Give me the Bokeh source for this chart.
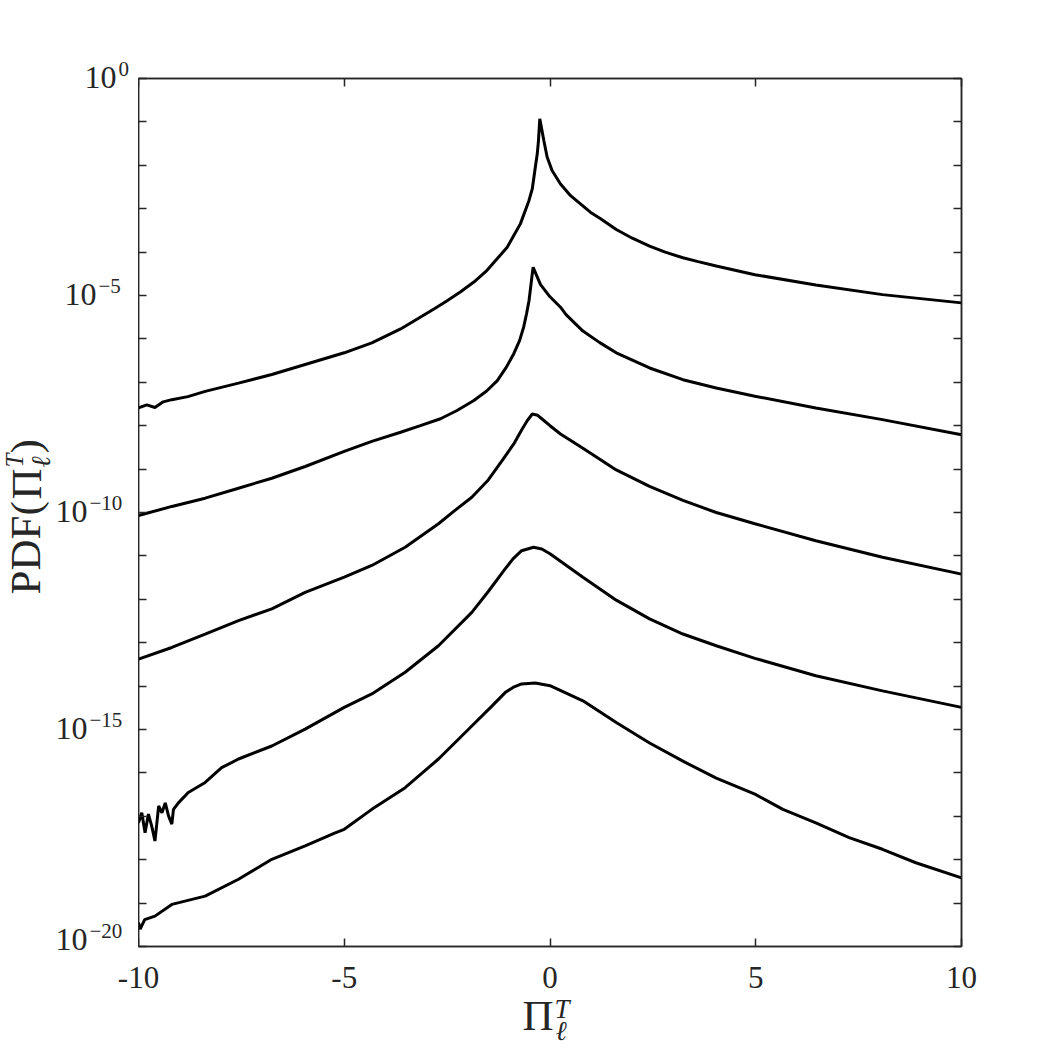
import numpy as np
from bokeh.plotting import figure
from bokeh.layouts import row, column
from bokeh.models import (FixedTicker, CustomJSTickFormatter, LinearAxis, LogAxis, Label, Axis)
from bokeh.embed import file_html
from bokeh.resources import INLINE

# ---- data (x = Pi_l^T, values given as log10 of the PDF) ----
x_a = [-10, -9.8, -9.6, -9.4, -9.19, -8.8, -8.38, -7.57, -6.76, -5.95, -5.0, -4.33, -3.63, -2.82,
       -2.50, -2.18, -1.85, -1.53, -1.28, -1.04, -0.88, -0.72, -0.51, -0.43, -0.35, -0.31, -0.28,
       -0.248, -0.15, -0.07, 0.05, 0.255, 0.50, 0.74, 0.98, 1.23, 1.61, 2.0, 2.42, 2.8, 3.23, 3.6,
       4.04, 4.98, 6.46, 8.08, 10]
log_a = [-7.59, -7.52, -7.58, -7.45, -7.40, -7.33, -7.21, -7.02, -6.82, -6.59, -6.32, -6.09, -5.77,
         -5.31, -5.12, -4.92, -4.69, -4.42, -4.15, -3.89, -3.62, -3.35, -2.81, -2.54, -2.00, -1.74,
         -1.43, -0.93, -1.43, -1.81, -2.12, -2.43, -2.70, -2.89, -3.08, -3.23, -3.48, -3.68, -3.86,
         -4.00, -4.13, -4.22, -4.32, -4.52, -4.76, -4.98, -5.17]

x_b = [-10, -9.19, -8.38, -7.57, -6.76, -5.95, -5.0, -4.33, -3.63, -3.15, -2.66, -2.26, -1.85, -1.54,
       -1.28, -1.06, -0.88, -0.74, -0.64, -0.57, -0.51, -0.45, -0.41, -0.23, 0.0, 0.255, 0.39, 0.80,
       1.20, 1.61, 2.42, 3.23, 4.04, 4.98, 6.46, 8.08, 10]
log_b = [-10.07, -9.86, -9.67, -9.44, -9.21, -8.94, -8.59, -8.36, -8.15, -8.00, -7.84, -7.65, -7.42,
         -7.20, -6.96, -6.65, -6.34, -6.04, -5.73, -5.42, -5.12, -4.65, -4.35, -4.75, -5.03, -5.27,
         -5.44, -5.82, -6.08, -6.32, -6.67, -6.94, -7.13, -7.32, -7.59, -7.86, -8.21]

x_c = [-10, -9.19, -8.38, -7.57, -6.76, -5.95, -5.0, -4.33, -3.52, -2.71, -2.31, -1.90, -1.50, -1.16,
       -0.88, -0.69, -0.55, -0.43, -0.30, -0.20, 0.0, 0.255, 0.80, 1.61, 2.42, 3.23, 4.04, 4.98,
       6.46, 8.08, 10]
log_c = [-13.38, -13.11, -12.80, -12.49, -12.22, -11.84, -11.49, -11.22, -10.80, -10.26, -9.95,
         -9.65, -9.25, -8.80, -8.42, -8.10, -7.88, -7.73, -7.76, -7.84, -8.00, -8.19, -8.52, -9.02,
         -9.40, -9.72, -10.00, -10.26, -10.65, -11.03, -11.42]

x_d = [-10, -9.92, -9.84, -9.76, -9.68, -9.60, -9.51, -9.43, -9.35, -9.27, -9.19, -9.15, -9.03,
       -8.79, -8.38, -7.98, -7.57, -6.76, -5.95, -5.0, -4.33, -3.52, -2.71, -1.90, -1.50, -1.09,
       -0.90, -0.69, -0.40, -0.20, 0.0, 0.80, 1.61, 2.42, 3.23, 4.04, 4.98, 6.46, 8.08, 10]
log_d = [-17.15, -16.92, -17.38, -16.95, -17.22, -17.57, -16.76, -16.92, -16.69, -16.99, -17.18,
         -16.84, -16.69, -16.45, -16.22, -15.88, -15.68, -15.38, -14.99, -14.49, -14.18, -13.68,
         -13.07, -12.30, -11.82, -11.30, -11.07, -10.88, -10.80, -10.84, -10.95, -11.49, -12.02,
         -12.45, -12.80, -13.07, -13.36, -13.76, -14.11, -14.49]

x_e = [-10, -9.96, -9.85, -9.6, -9.19, -8.38, -7.57, -6.76, -5.95, -5.22, -5.0, -4.33, -3.52, -2.71,
       -1.90, -1.40, -1.09, -0.90, -0.69, -0.36, 0.0, 0.80, 1.61, 2.42, 3.23, 4.04, 4.98, 5.66,
       6.46, 7.27, 8.08, 8.89, 10]
log_e = [-19.45, -19.60, -19.38, -19.30, -19.03, -18.84, -18.45, -17.99, -17.68, -17.38, -17.30,
         -16.84, -16.34, -15.68, -14.92, -14.45, -14.15, -14.03, -13.95, -13.93, -13.99, -14.34,
         -14.84, -15.31, -15.73, -16.12, -16.49, -16.84, -17.15, -17.49, -17.76, -18.07, -18.42]

series = [(x_a, log_a), (x_b, log_b), (x_c, log_c), (x_d, log_d), (x_e, log_e)]

x_ticks = [-10, -5, 0, 5, 10]
x_tick_text = ["-10", "-5", "0", "5", "10"]
y_decades = list(range(0, -21, -1))
y_label_decades = [0, -5, -10, -15, -20]

FONT = "Liberation Serif"
AX = "#262626"

# ---- geometry (canvas pixels) ----
W, H = 1063, 1063
FL, FR, FT, FB = 138, 961, 78, 946      # plot box
MAIN_H = 958                            # height of the row holding the plot
XMIN, XMAX, YMIN_DEC, YMAX_DEC = -10.0, 10.0, -20.0, 0.0
DEC_PX = (FB - FT) / (YMAX_DEC - YMIN_DEC)
UNIT_PX = (FR - FL) / (XMAX - XMIN)
HALF_BOX = 0.5535                       # half text-box height in em (Liberation Serif)


def no_frame_align(f):
    try:
        f.frame_align = False
    except Exception:
        pass


# ---- main plot ----
p = figure(width=W - FL, height=MAIN_H, x_range=(XMIN, XMAX),
           y_range=(10 ** YMIN_DEC, 10 ** YMAX_DEC), y_axis_type="log",
           output_backend="svg", toolbar_location=None,
           min_border_left=0, min_border_right=W - FR,
           min_border_top=FT, min_border_bottom=MAIN_H - FB)
no_frame_align(p)
p.background_fill_color = "white"
p.border_fill_color = "white"
p.xgrid.visible = False
p.ygrid.visible = False
p.outline_line_color = AX
p.outline_line_width = 1.5

blank = CustomJSTickFormatter(code="return ''")
yt = FixedTicker(ticks=[10.0 ** k for k in y_decades])
xt = FixedTicker(ticks=x_ticks)

p.add_layout(LinearAxis(), "above")
p.add_layout(LogAxis(), "right")

for side in (p.below, p.above, p.left, p.right):
    for ax in side:
        if not isinstance(ax, Axis):
            continue
        ax.ticker = yt if isinstance(ax, LogAxis) else xt
        ax.formatter = blank
        ax.major_label_text_font_size = "1px"
        ax.major_label_standoff = 0
        ax.axis_line_color = AX
        ax.axis_line_width = 1.5
        ax.major_tick_line_color = AX
        ax.major_tick_line_width = 1.5
        ax.major_tick_in = 8
        ax.major_tick_out = 0
        ax.minor_tick_line_color = None

for xs, ls in series:
    p.line(xs, [10.0 ** v for v in ls], line_color="black", line_width=3)


def strip(width, height, x_range, y_range, y_axis_type="linear"):
    f = figure(width=width, height=height, x_range=x_range, y_range=y_range,
               y_axis_type=y_axis_type, x_axis_location=None, y_axis_location=None,
               min_border=0, output_backend="svg", toolbar_location=None)
    no_frame_align(f)
    f.grid.visible = False
    f.outline_line_color = None
    f.background_fill_color = "white"
    f.border_fill_color = "white"
    return f


def add_text(f, x, y, text, size, align="left", style="normal", angle=0.0):
    f.add_layout(Label(x=x, y=y, text=text, text_font=FONT, text_font_size=f"{size}px",
                       text_color=AX, text_align=align, text_baseline="middle",
                       text_font_style=style, angle=angle))


# ---- left strip: y tick labels 10^k and the y-axis title (same log scale as the plot) ----
TOP_LOG = YMAX_DEC + FT / DEC_PX
BOT_LOG = YMIN_DEC - (MAIN_H - FB) / DEC_PX
left = strip(FL, MAIN_H, (0, FL), (10 ** BOT_LOG, 10 ** TOP_LOG), y_axis_type="log")


def ylog(Y):
    return 10 ** (TOP_LOG - Y / DEC_PX)


for k in y_label_decades:
    exp = "0" if k == 0 else "\u2212" + str(-k)
    w = 9 if k == 0 else (29 if -k < 10 else 38)
    base_right = 125 - w
    ty = FT - k * DEC_PX
    cy = min(ty - 1, MAIN_H - HALF_BOX * 32 - 1)   # keep the lowest label inside its strip
    add_text(left, base_right, ylog(cy), "10", 32, align="right")
    add_text(left, base_right + 2, ylog(cy - 9), exp, 21, align="left")

ang = np.pi / 2
add_text(left, 24.5, ylog(594), "PDF(", 43, angle=ang)
add_text(left, 25.5, ylog(499), "\u03a0", 43, angle=ang)
add_text(left, 14, ylog(467), "T", 25, style="italic", angle=ang)
add_text(left, 40, ylog(467), "\u2113", 27, style="italic", angle=ang)
add_text(left, 24.5, ylog(453), ")", 43, angle=ang)

# ---- bottom strip: x tick labels and x-axis title (same x scale as the plot) ----
BH = H - MAIN_H
bottom = strip(W, BH, (XMIN - FL / UNIT_PX, XMAX + (W - FR) / UNIT_PX), (0, BH))


def xdat(X):
    return XMIN + (X - FL) / UNIT_PX


for t, s in zip(x_ticks, x_tick_text):
    add_text(bottom, t, H - 976.5, s, 31, align="center")

add_text(bottom, xdat(522), H - 1015, "\u03a0", 43)
add_text(bottom, xdat(554), H - 1008, "T", 27, style="italic")
add_text(bottom, xdat(555), H - 1030, "\u2113", 27, style="italic")

layout = column(row(left, p, spacing=0), bottom, spacing=0)
open("out.html", "w").write(file_html(layout, INLINE))
